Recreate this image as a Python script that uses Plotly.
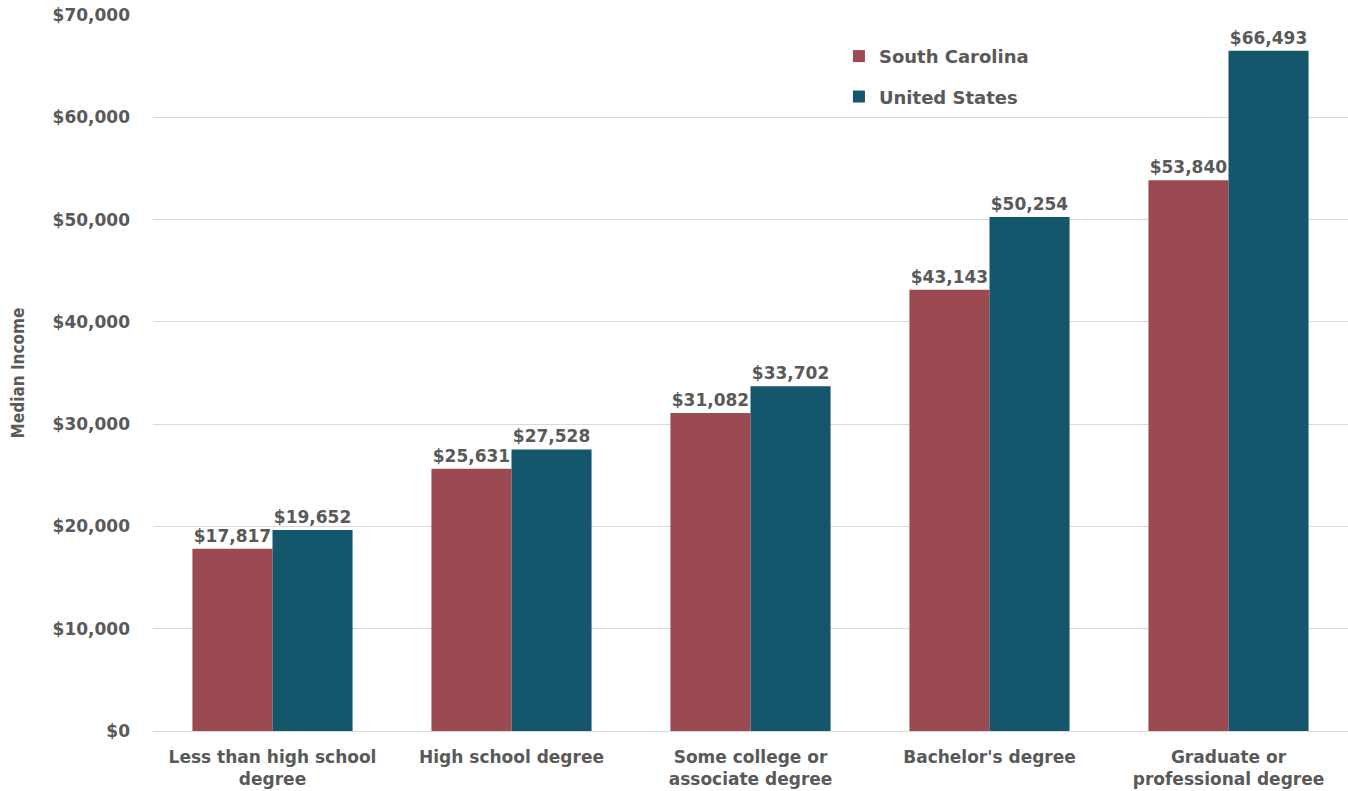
import plotly.graph_objects as go

categories = ["Less than high school<br>degree", "High school degree",
              "Some college or<br>associate degree", "Bachelor's degree",
              "Graduate or<br>professional degree"]
south_carolina = [17817, 25631, 31082, 43143, 53840]
united_states = [19652, 27528, 33702, 50254, 66493]
y_ticks = [0, 10000, 20000, 30000, 40000, 50000, 60000, 70000]
y_tick_labels = ["$0", "$10,000", "$20,000", "$30,000", "$40,000", "$50,000", "$60,000", "$70,000"]

FONT = "DejaVu Sans"
GRAY = "#595959"

fig = go.Figure()
fig.add_trace(go.Bar(
    name="South Carolina", x=categories, y=south_carolina, legendgroup="sc",
    marker=dict(color="#9c4a51", line=dict(width=0)),
    text=[f"${v:,}" for v in south_carolina], textposition="outside",
    textfont=dict(family=FONT, size=17, color=GRAY, weight="bold"),
    cliponaxis=False,
))
fig.add_trace(go.Bar(
    name="United States", x=categories, y=united_states, legendgroup="us",
    marker=dict(color="#14566b", line=dict(width=0)),
    text=[f"${v:,}" for v in united_states], textposition="outside",
    textfont=dict(family=FONT, size=17, color=GRAY, weight="bold"),
    cliponaxis=False,
))

fig.update_layout(
    width=1348, height=791,
    margin=dict(l=153, r=0, t=15, b=60, autoexpand=False),
    paper_bgcolor="white", plot_bgcolor="white",
    barmode="group", bargap=0.33, bargroupgap=0,
    font=dict(family=FONT, color=GRAY),
    legend=dict(x=0.574, y=0.968, xanchor="left", yanchor="top",
                font=dict(family=FONT, size=18, color=GRAY, weight="bold"),
                bgcolor="rgba(0,0,0,0)", traceorder="grouped", tracegroupgap=14),
    showlegend=True,
)
fig.update_xaxes(
    showgrid=False, showline=False, ticks="", automargin=False,
    ticklabelstandoff=14, ticklabeloverflow="allow",
    tickfont=dict(family=FONT, size=17, color=GRAY, weight="bold"),
)
fig.update_yaxes(
    range=[0, 70000], tickvals=y_ticks, ticktext=y_tick_labels,
    showgrid=True, gridcolor="#d9d9d9", gridwidth=1,
    zeroline=True, zerolinecolor="#d9d9d9", zerolinewidth=1,
    showline=False, ticks="", ticklabelstandoff=22, automargin=False,
    ticklabeloverflow="allow",
    tickfont=dict(family=FONT, size=17, color=GRAY, weight="bold"),
    title=dict(text="Median Income", standoff=23,
               font=dict(family="Liberation Sans Narrow, DejaVu Sans Condensed", size=17, color=GRAY, weight="bold")),
)

fig.write_html("out.html", config={"displayModeBar": False},
               post_script="document.body.style.margin='0';document.body.style.overflow='hidden';")
